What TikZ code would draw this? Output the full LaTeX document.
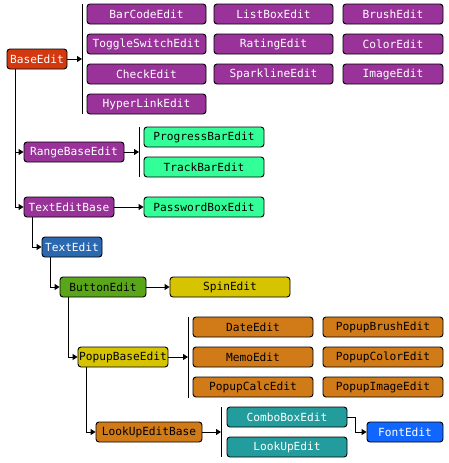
\documentclass[tikz,border=0pt]{standalone}
\usepackage{fontspec}
\newfontfamily\monofam{DejaVu Sans Mono}
\usetikzlibrary{arrows.meta}
\definecolor{cred}{HTML}{D4380E}
\definecolor{cpurple}{HTML}{993399}
\definecolor{cmint}{HTML}{33FF99}
\definecolor{cblue}{HTML}{2A68B0}
\definecolor{cgreen}{HTML}{5AA61A}
\definecolor{cyellow}{HTML}{D6C400}
\definecolor{corange}{HTML}{D07A18}
\definecolor{cteal}{HTML}{239C9E}
\definecolor{cfont}{HTML}{1166FF}
\tikzset{
  bx/.style={draw=black, line width=0.9pt, rounded corners=3pt, inner sep=0pt,
    minimum height=20pt, font=\monofam\fontsize{11.2}{12}\selectfont},
  wbx/.style={bx, text=white},
  kbx/.style={bx, text=black},
  arr/.style={line width=1pt, -{Triangle[length=5pt,width=6pt]}},
  bar/.style={line width=1pt},
}
\begin{document}
\begin{tikzpicture}[x=1pt,y=-1pt]
\useasboundingbox (0,0) rectangle (448,463);
% BaseEdit
\node[wbx, fill=cred, minimum width=60pt] (base) at (37,59) {BaseEdit};
\coordinate (b1t) at (82,4); \coordinate (b1b) at (82,114); \coordinate (b1m) at (82,59);
\draw[bar] (b1t) -- (b1b);
\draw[arr] (base.east) -- (b1m);
\foreach \n/\t/\x/\y/\w in {
 p1/BarCodeEdit/146.5/14/119, p2/ToggleSwitchEdit/146.5/44/119, p3/CheckEdit/146.5/74/119, p4/HyperLinkEdit/146.5/104/119,
 p5/ListBoxEdit/273.5/14/119, p6/RatingEdit/273.5/44/119, p7/SparklineEdit/273.5/74/119,
 p8/BrushEdit/393/14/100, p9/ColorEdit/393/44/100, p10/ImageEdit/393/74/100}
 {\node[wbx, fill=cpurple, minimum width=\w pt] (\n) at (\x,\y) {\t};}
% RangeBaseEdit
\node[wbx, fill=cpurple, minimum width=100pt] (range) at (74,152) {RangeBaseEdit};
\draw[arr] ([xshift=9pt]base.south west) |- (range.west);
\coordinate (b2t) at (139,127); \coordinate (b2b) at (139,177); \coordinate (b2m) at (139,152);
\draw[bar] (b2t) -- (b2b);
\draw[arr] (range.east) -- (b2m);
\node[kbx, fill=cmint, minimum width=120pt] (prog) at (204,137) {ProgressBarEdit};
\node[kbx, fill=cmint, minimum width=120pt] (track) at (204,167) {TrackBarEdit};
% TextEditBase
\node[wbx, fill=cpurple, minimum width=90pt] (teb) at (69,207) {TextEditBase};
\draw[arr] ([xshift=9pt]base.south west) |- (teb.west);
\node[kbx, fill=cmint, minimum width=120pt] (pwd) at (204,207) {PasswordBoxEdit};
\draw[arr] (teb.east) -- (pwd.west);
% TextEdit
\node[wbx, fill=cblue, minimum width=60pt] (te) at (72,247) {TextEdit};
\draw[arr] ([xshift=9pt]teb.south west) |- (te.west);
% ButtonEdit
\node[kbx, fill=cgreen, minimum width=86pt] (btn) at (103,287) {ButtonEdit};
\draw[arr] ([xshift=9pt]te.south west) |- (btn.west);
\node[kbx, fill=cyellow, minimum width=120pt] (spin) at (230,287) {SpinEdit};
\draw[arr] (btn.east) -- (spin.west);
% PopupBaseEdit
\node[kbx, fill=cyellow, minimum width=90pt] (pop) at (123,357) {PopupBaseEdit};
\draw[arr] ([xshift=9pt]btn.south west) |- (pop.west);
\coordinate (b3t) at (188,317); \coordinate (b3b) at (188,398); \coordinate (b3m) at (188,357);
\draw[bar] (b3t) -- (b3b);
\draw[arr] (pop.east) -- (b3m);
\foreach \n/\t/\x/\y in {
 o1/DateEdit/253/327, o2/MemoEdit/253/357, o3/PopupCalcEdit/253/387,
 o4/PopupBrushEdit/383/327, o5/PopupColorEdit/383/357, o6/PopupImageEdit/383/387}
 {\node[kbx, fill=corange, minimum width=120pt] (\n) at (\x,\y) {\t};}
% LookUpEditBase
\node[kbx, fill=corange, minimum width=106pt] (lub) at (149,432) {LookUpEditBase};
\draw[arr] ([xshift=9pt]pop.south west) |- (lub.west);
\coordinate (b4t) at (221,407); \coordinate (b4b) at (221,457); \coordinate (b4m) at (221,432);
\draw[bar] (b4t) -- (b4b);
\draw[arr] (lub.east) -- (b4m);
\node[wbx, fill=cteal, minimum width=120pt] (combo) at (287,417) {ComboBoxEdit};
\node[wbx, fill=cteal, minimum width=120pt] (lue) at (287,447) {LookUpEdit};
\node[wbx, fill=cfont, minimum width=76pt] (font) at (405,432) {FontEdit};
\draw[arr] (combo.east) -- ++(8,0) |- (font.west);
\end{tikzpicture}
\end{document}
